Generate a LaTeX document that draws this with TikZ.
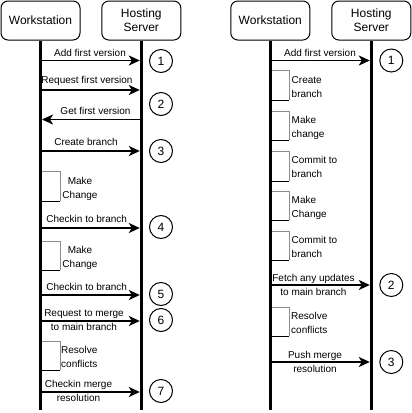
\documentclass[tikz,border=0pt]{standalone}
\usepackage{fontspec}
\setmainfont{Liberation Sans}
\usetikzlibrary{arrows.meta}
\begin{document}
\begin{tikzpicture}[x=1pt,y=-1pt,
  hdr/.style={draw, rounded corners=7pt, line width=1pt, minimum width=79pt, minimum height=39pt, inner sep=0pt, align=center, font=\fontsize{12}{14.4}\selectfont},
  life/.style={line width=3pt},
  msg/.style={line width=1.8pt, -{Stealth[length=11pt,width=10pt,inset=3pt]}},
  lbl/.style={font=\fontsize{10}{14}\selectfont, inner sep=0pt, align=center},
  blbl/.style={font=\fontsize{10}{14}\selectfont, inner sep=0pt, align=left, anchor=north west},
  num/.style={draw, circle, line width=1pt, minimum size=23pt, inner sep=0pt, font=\fontsize{12}{14}\selectfont},
  actv/.style={draw=gray!90, line width=1pt},
  actb/.style={line width=1pt},
]
\useasboundingbox (0,0) rectangle (412,413);

% ---------------- left diagram ----------------
\node[hdr] (lws) at (40.5,20.5) {Workstation};
\node[hdr] (lhs) at (141.3,20.5) {Hosting\\Server};
\coordinate (lwsE) at (40.5,410);
\coordinate (lhsE) at (141.3,410);
\draw[life] (lws.south) -- (lwsE);
\draw[life] (lhs.south) -- (lhsE);

% messages
\draw[msg] ([xshift=1.5pt]lws.south |- 0,60.5) -- ([xshift=-1.5pt]lhs.south |- 0,60.5);
\node[lbl, anchor=base] (lt1) at (90,56.5) {Add first version};
\node[num] (lc1) at (161,61) {1};

\draw[msg] ([xshift=1.5pt]lws.south |- 0,90) -- ([xshift=-1.5pt]lhs.south |- 0,90);
\node[lbl, anchor=base] (lt2) at (87,83.5) {Request first version};
\node[num] (lc2) at (161,104) {2};

\draw[msg] ([xshift=-1.5pt]lhs.south |- 0,119.5) -- ([xshift=1.5pt]lws.south |- 0,119.5);
\node[lbl, anchor=base] (lt3) at (95.5,114.5) {Get first version};

\draw[msg] ([xshift=1.5pt]lws.south |- 0,151) -- ([xshift=-1.5pt]lhs.south |- 0,151);
\node[lbl, anchor=base] (lt4) at (86,145.5) {Create branch};
\node[num] (lc3) at (161,151) {3};

\draw[actv] (42,171) -| (60,201);
\draw[actb] (60,201) -- (42,201);
\node[lbl, anchor=north] (lb1) at (80,177) {Make\\Change};

\draw[msg] ([xshift=1.5pt]lws.south |- 0,228) -- ([xshift=-1.5pt]lhs.south |- 0,228);
\node[lbl, anchor=base] (lt5) at (86.7,222.5) {Checkin to branch};
\node[num] (lc4) at (161,227) {4};

\draw[actv] (42,241) -| (60,270);
\draw[actb] (60,270) -- (42,270);
\node[lbl, anchor=north] (lb2) at (80,246.5) {Make\\Change};

\draw[msg] ([xshift=1.5pt]lws.south |- 0,295) -- ([xshift=-1.5pt]lhs.south |- 0,295);
\node[lbl, anchor=base] (lt6) at (86.7,290.5) {Checkin to branch};
\node[num] (lc5) at (161,294) {5};

\draw[msg] ([xshift=1.5pt]lws.south |- 0,321) -- ([xshift=-1.5pt]lhs.south |- 0,321);
\node[lbl, anchor=north] (lt7) at (84,309.5) {Request to merge\\to main branch};
\node[num] (lc6) at (161,320) {6};

\draw[actv] (42,341) -| (60,370);
\draw[actb] (60,370) -- (42,370);
\node[blbl] (lb3) at (61,346) {Resolve\\conflicts};

\draw[msg] ([xshift=1.5pt]lws.south |- 0,392) -- ([xshift=-1.5pt]lhs.south |- 0,392);
\node[lbl, anchor=north] (lt8) at (78.5,380.5) {Checkin merge\\resolution};
\node[num] (lc7) at (161,391) {7};

% ---------------- right diagram ----------------
\node[hdr] (rws) at (270.3,20.5) {Workstation};
\node[hdr] (rhs) at (371.3,20.5) {Hosting\\Server};
\coordinate (rwsE) at (270.3,410);
\coordinate (rhsE) at (371.3,410);
\draw[life] (rws.south) -- (rwsE);
\draw[life] (rhs.south) -- (rhsE);

\draw[msg] ([xshift=1.5pt]rws.south |- 0,60.5) -- ([xshift=-1.5pt]rhs.south |- 0,60.5);
\node[lbl, anchor=base] (rt1) at (320,56.5) {Add first version};
\node[num] (rc1) at (391.3,60.5) {1};

\draw[actv] (272,70) -| (289,100);
\draw[actb] (289,100) -- (272,100);
\node[blbl] (rb1) at (291.5,76) {Create\\branch};

\draw[actv] (272,111) -| (289,140);
\draw[actb] (289,140) -- (272,140);
\node[blbl] (rb2) at (291.5,116.5) {Make\\change};

\draw[actv] (272,151) -| (289,181);
\draw[actb] (289,181) -- (272,181);
\node[blbl] (rb3) at (291.5,156.5) {Commit to\\branch};

\draw[actv] (272,191) -| (289,220);
\draw[actb] (289,220) -- (272,220);
\node[blbl] (rb4) at (291.5,196.5) {Make\\Change};

\draw[actv] (272,231) -| (289,260);
\draw[actb] (289,260) -- (272,260);
\node[blbl] (rb5) at (291.5,236.5) {Commit to\\branch};

\draw[msg] ([xshift=1.5pt]rws.south |- 0,285) -- ([xshift=-1.5pt]rhs.south |- 0,285);
\node[lbl, anchor=north] (rt2) at (313.5,274) {Fetch any updates\\to main branch};
\node[num] (rc2) at (391.3,285) {2};

\draw[actv] (272,307) -| (289,336);
\draw[actb] (289,336) -- (272,336);
\node[blbl] (rb6) at (291,312.5) {Resolve\\conflicts};

\draw[msg] ([xshift=1.5pt]rws.south |- 0,362) -- ([xshift=-1.5pt]rhs.south |- 0,362);
\node[lbl, anchor=north] (rt3) at (315,351) {Push merge\\resolution};
\node[num] (rc3) at (391.3,362) {3};
\end{tikzpicture}
\end{document}
